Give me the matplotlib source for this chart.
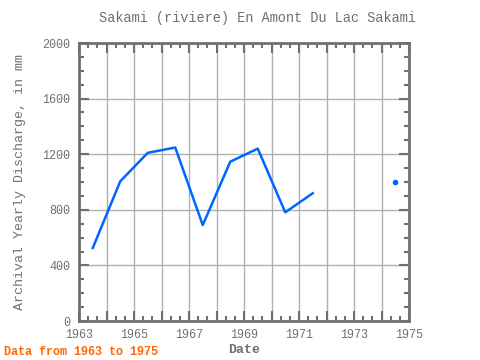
import numpy as np
import matplotlib
matplotlib.use("Agg")
from matplotlib import pyplot as plt
from matplotlib.ticker import MultipleLocator

# yearly discharge, mid-year points
years = [1963.5, 1964.5, 1965.5, 1966.5, 1967.5, 1968.5, 1969.5, 1970.5, 1971.5, 1972.5, 1973.5, 1974.5]
discharge = [525, 1005, 1210, 1248, 690, 1146, 1240, 782, 919, np.nan, np.nan, 1002]

xticks = [1963, 1965, 1967, 1969, 1971, 1973, 1975]
yticks = [0, 400, 800, 1200, 1600, 2000]

gray = '#707070'
blue = '#0066ff'
plt.rcParams['font.family'] = ['Liberation Mono', 'DejaVu Sans Mono']

fig = plt.figure(figsize=(4.8, 3.6), dpi=100)
ax = fig.add_axes([79/480, 1-321/360, 330/480, 278/360])

x = np.array(years)
y = np.array(discharge, dtype=float)
ax.plot(x, y, color=blue, lw=1.8, zorder=3)

# lone points (no neighbours) get a dot
ok = ~np.isnan(y)
prev_ok = np.r_[False, ok[:-1]]
next_ok = np.r_[ok[1:], False]
lone = ok & ~prev_ok & ~next_ok
ax.plot(x[lone], y[lone], 'o', color=blue, ms=3, zorder=3)

ax.set_xlim(1963, 1975)
ax.set_ylim(0, 2000)
ax.set_yticks(yticks)
ax.xaxis.set_minor_locator(MultipleLocator(1/3))
ax.yaxis.set_minor_locator(MultipleLocator(100))
ax.set_xticks(np.arange(1963, 1976, 1))
ax.set_xticklabels([str(v) if v in xticks else '' for v in range(1963, 1976)])

ax.grid(True, which='major', color='#b0b0b0', lw=1)
ax.set_axisbelow(True)
for s in ax.spines.values():
    s.set_color(gray)
    s.set_linewidth(2)

ax.tick_params(which='both', direction='in', color=gray, top=True, right=True,
               labelcolor=gray, labelsize=8.5)
ax.tick_params(which='major', length=7, width=1.5, pad=6)
ax.tick_params(which='minor', length=3.5, width=1.5)

fig.text(257/480, 1-18/360, 'Sakami (riviere) En Amont Du Lac Sakami',
         ha='center', va='center', fontsize=9.8, color=gray)
ax.set_xlabel('Date', fontsize=9.5, color=gray, fontweight='bold', labelpad=2)
ax.set_ylabel('Archival Yearly Discharge, in mm', fontsize=9.6, color=gray, labelpad=12)
fig.text(4/480, 1-352/360, 'Data from 1963 to 1975', ha='left', va='center',
         fontsize=8.5, color='#ff6600', fontweight='bold')

fig.savefig('out.png', dpi=100)
